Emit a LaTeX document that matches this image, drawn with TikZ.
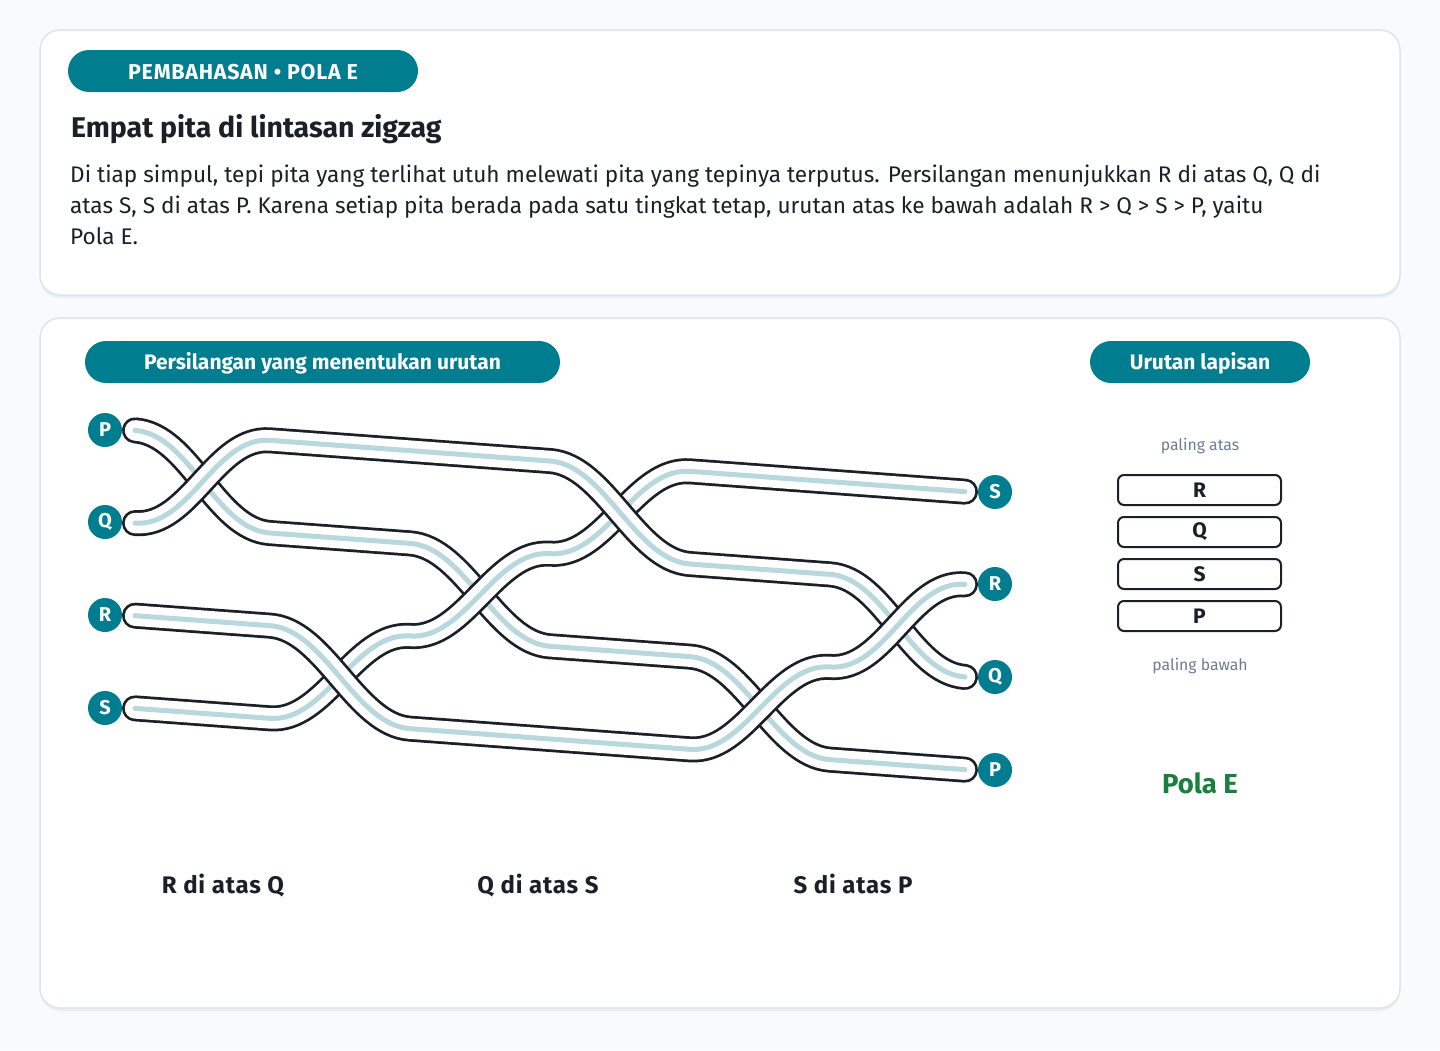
\documentclass[tikz,border=0pt]{standalone}
\usepackage{fontspec}
\setmainfont{Fira Sans}
\definecolor{teal}{RGB}{0,125,143}
\definecolor{ink}{RGB}{27,32,40}
\definecolor{ribblue}{RGB}{184,216,222}
\definecolor{graytxt}{RGB}{110,125,145}
\definecolor{okgreen}{RGB}{26,128,64}
\definecolor{pagebg}{RGB}{248,250,252}
\definecolor{cardline}{RGB}{221,228,234}
\definecolor{cardshadow}{RGB}{234,239,243}
\newcommand\myfs[2]{\fontsize{#1}{#2}\selectfont}
\newcommand\ribbon[1]{\draw[rib outer] #1; \draw[rib inner] #1; \draw[rib core] #1;}
\def\LA{420.4}
\def\LB{513.1}
\def\LC{605.7}
\def\LD{698.4}
\begin{document}
\begin{tikzpicture}[x=1pt,y=-1pt,
  card/.style={draw=cardline, line width=1.5pt, fill=white, rounded corners=20pt},
  pilltext/.style={text=white, font=\myfs{21}{24}\bfseries},
  tag/.style={circle, fill=teal, minimum size=34pt, inner sep=0pt, text=white, font=\myfs{20}{22}\bfseries},
  layerbox/.style={draw=ink, line width=2pt, rounded corners=6pt, minimum width=163pt, minimum height=30pt, inner sep=0pt, font=\myfs{21}{23}\bfseries, text=ink},
  para/.style={anchor=base west, font=\myfs{22.6}{26}, text=ink, inner sep=0pt},
  crosslabel/.style={anchor=base, inner sep=0pt, font=\myfs{24}{26}\bfseries\addfontfeatures{LetterSpace=3.5}, text=ink},
  note/.style={font=\myfs{15.8}{18}, text=graytxt},
  rib outer/.style={line width=26pt, draw=ink, line cap=round, line join=round},
  rib inner/.style={line width=20.5pt, draw=white, line cap=round, line join=round},
  rib core/.style={line width=5pt, draw=ribblue, line cap=round, line join=round}]
\useasboundingbox (0,0) rectangle (1440,1050);
\fill[pagebg] (0,0) rectangle (1440,1050);

% cards
\fill[cardshadow, rounded corners=20pt] (40,33) rectangle (1400,298);
\draw[card] (40,30) rectangle (1400,295);
\fill[cardshadow, rounded corners=20pt] (40,321) rectangle (1400,1011);
\draw[card] (40,318) rectangle (1400,1008);

% header card
\fill[teal, rounded corners=21pt] (68,50) rectangle (418,92);
\node[text=white, font=\myfs{21.5}{24}\bfseries\addfontfeatures{LetterSpace=3.5}] (hdr) at (243,72.5) {PEMBAHASAN • POLA E};
\node[anchor=base west, inner sep=0pt, font=\myfs{28.5}{32}\bfseries, text=ink] (title) at (71,137.5) {Empat pita di lintasan zigzag};
\node[para] (l1) at (70,182.5) {Di tiap simpul, tepi pita yang terlihat utuh melewati pita yang tepinya terputus. Persilangan menunjukkan R di atas Q, Q di};
\node[para] (l2) at (70,213.5) {atas S, S di atas P. Karena setiap pita berada pada satu tingkat tetap, urutan atas ke bawah adalah R > Q > S > P, yaitu};
\node[para] (l3) at (70,244.5) {Pola E.};

% second card pills
\fill[teal, rounded corners=21pt] (85,341) rectangle (560,383);
\node[pilltext] (p1) at (322.5,363) {Persilangan yang menentukan urutan};
\fill[teal, rounded corners=21pt] (1090,341) rectangle (1310,383);
\node[pilltext] (p2) at (1200,363) {Urutan lapisan};

% ribbons (drawn bottom layer first: P, S, Q, R)
\begin{scope}[yslant=-0.0738]
\ribbon{(135,\LA) .. controls (190,\LA) and (215,\LB) .. (270,\LB) -- (410,\LB) .. controls (465,\LB) and (495,\LC) .. (550,\LC) -- (690,\LC) .. controls (745,\LC) and (775,\LD) .. (830,\LD) -- (965,\LD)}
\ribbon{(135,\LD) -- (270,\LD) .. controls (325,\LD) and (355,\LC) .. (410,\LC) .. controls (465,\LC) and (495,\LB) .. (550,\LB) .. controls (605,\LB) and (635,\LA) .. (690,\LA) -- (965,\LA)}
\ribbon{(135,\LB) .. controls (190,\LB) and (215,\LA) .. (270,\LA) -- (550,\LA) .. controls (605,\LA) and (635,\LB) .. (690,\LB) -- (830,\LB) .. controls (885,\LB) and (910,\LC) .. (965,\LC)}
\ribbon{(135,\LC) -- (270,\LC) .. controls (325,\LC) and (355,\LD) .. (410,\LD) -- (690,\LD) .. controls (745,\LD) and (775,\LC) .. (830,\LC) .. controls (885,\LC) and (910,\LB) .. (965,\LB)}
\end{scope}

% end tags
\node[tag] (pL) at (105,430) {P};
\node[tag] (qL) at (105,522) {Q};
\node[tag] (rL) at (105,615) {R};
\node[tag] (sL) at (105,708) {S};
\node[tag] (sR) at (995,492) {S};
\node[tag] (rR) at (995,584) {R};
\node[tag] (qR) at (995,677) {Q};
\node[tag] (pR) at (995,770) {P};

% crossing labels
\node[crosslabel] (c1) at (223,893.5) {R di atas Q};
\node[crosslabel] (c2) at (538,893.5) {Q di atas S};
\node[crosslabel] (c3) at (853,893.5) {S di atas P};

% layer order panel
\node[note] (top) at (1200,446) {paling atas};
\node[layerbox] (bR) at (1199.5,490) {R};
\node[layerbox] (bQ) at (1199.5,532) {Q};
\node[layerbox] (bS) at (1199.5,574) {S};
\node[layerbox] (bP) at (1199.5,616) {P};
\node[note] (bot) at (1200,666) {paling bawah};
\node[font=\myfs{27.5}{30}\bfseries, text=okgreen] (res) at (1200,783) {Pola E};
\end{tikzpicture}
\end{document}
